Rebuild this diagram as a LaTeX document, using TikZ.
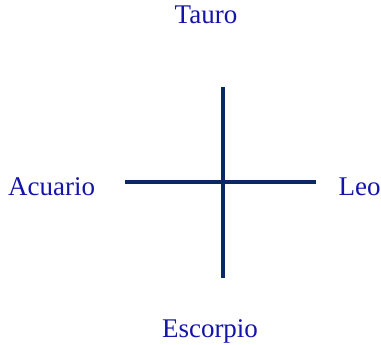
\documentclass[tikz,border=0pt]{standalone}
\usepackage{fontspec}
\setmainfont{Liberation Serif}
\definecolor{labelblue}{RGB}{20,20,170}
\definecolor{linenavy}{RGB}{10,40,100}
\begin{document}
\begin{tikzpicture}[x=1pt,y=-1pt,
  lab/.style={font=\fontsize{27}{31}\selectfont, text=labelblue, inner sep=0pt},
  axis/.style={draw=linenavy, line width=3.2pt}]
\useasboundingbox (0,0) rectangle (381,345);
\node[lab, anchor=base] (tauro) at (206,24) {Tauro};
\node[lab, anchor=base west] (acuario) at (8,196) {Acuario};
\node[lab, anchor=base west] (leo) at (338.5,196) {Leo};
\node[lab, anchor=base] (escorpio) at (210,337) {Escorpio};
\coordinate (l) at (125,182);
\coordinate (r) at (316,182);
\coordinate (t) at (223,87);
\coordinate (b) at (223,278);
\draw[axis] (l) -- (r);
\draw[axis] (t) -- (b);
\end{tikzpicture}
\end{document}
